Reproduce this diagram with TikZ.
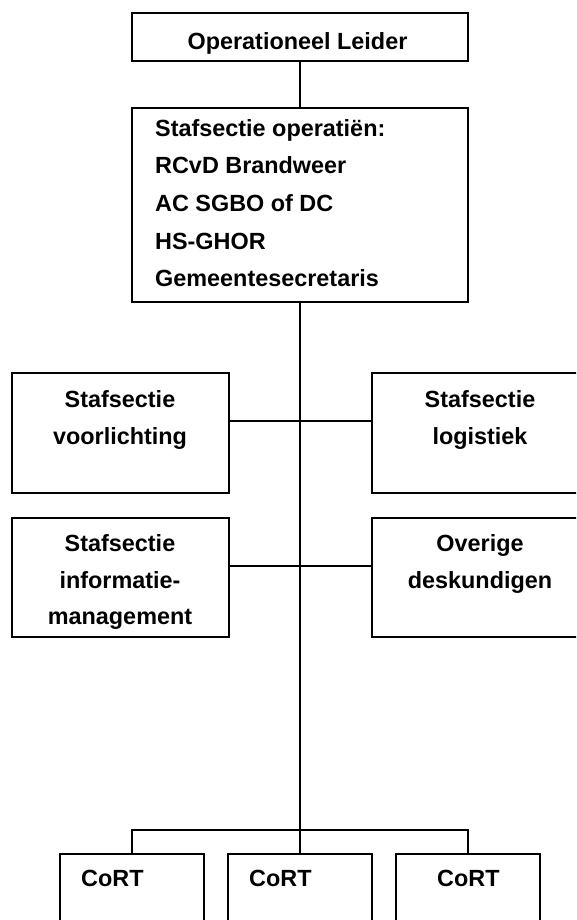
\documentclass[tikz,border=0pt]{standalone}
\usepackage{fontspec}
\setmainfont{Liberation Sans}
\begin{document}
\begin{tikzpicture}[x=1pt,y=-1pt,
  box/.style={draw, line width=1.5pt, inner sep=0pt, rectangle},
  txt/.style={inner sep=0pt, font=\fontsize{23.4}{28}\selectfont\bfseries},
  conn/.style={line width=1.5pt}]
\useasboundingbox (0,0) rectangle (576,920);
\clip (0,0) rectangle (576,920);
% boxes
\node[box, minimum width=336pt, minimum height=48pt] (lead) at (300,37) {};
\node[box, minimum width=336pt, minimum height=194pt] (ops) at (300,205) {};
\node[box, minimum width=217pt, minimum height=120pt] (voor) at (120.5,433) {};
\node[box, minimum width=216pt, minimum height=120pt] (log) at (480,433) {};
\node[box, minimum width=217pt, minimum height=119pt] (info) at (120.5,577.5) {};
\node[box, minimum width=216pt, minimum height=119pt] (ove) at (480,577.5) {};
\node[box, minimum width=144pt, minimum height=120pt] (cort1) at (132,914) {};
\node[box, minimum width=144pt, minimum height=120pt] (cort2) at (300,914) {};
\node[box, minimum width=144pt, minimum height=120pt] (cort3) at (468,914) {};
% texts
\node[txt, anchor=base] (tlead) at (297.5,50) {Operationeel Leider};
\foreach \t [count=\i] in {Stafsectie operatiën:,RCvD Brandweer,AC SGBO of DC,HS-GHOR,Gemeentesecretaris}
  \node[txt, anchor=base west] (tops\i) at (155,{136.5+37.5*(\i-1)}) {\t};
\node[txt, anchor=base] (tvoor1) at (120,407.5) {Stafsectie};
\node[txt, anchor=base] (tvoor2) at (120,444) {voorlichting};
\node[txt, anchor=base] (tlog1) at (480,407.5) {Stafsectie};
\node[txt, anchor=base] (tlog2) at (480,444) {logistiek};
\node[txt, anchor=base] (tinfo1) at (120,551.5) {Stafsectie};
\node[txt, anchor=base] (tinfo2) at (120,588) {informatie-};
\node[txt, anchor=base] (tinfo3) at (120,624.5) {management};
\node[txt, anchor=base] (tove1) at (480,551.5) {Overige};
\node[txt, anchor=base] (tove2) at (480,588) {deskundigen};
\node[txt, anchor=base west] (tc1) at (81,886.5) {CoRT};
\node[txt, anchor=base west] (tc2) at (249,886.5) {CoRT};
\node[txt, anchor=base west] (tc3) at (437,886.5) {CoRT};
% connectors
\coordinate (h1) at (300,421);
\coordinate (h2) at (300,566);
\coordinate (bus) at (300,830);
\draw[conn] (lead.south) -- (ops.north);
\draw[conn] (ops.south) -- (cort2.north);
\draw[conn] (h1 -| voor.east) -- (h1 -| log.west);
\draw[conn] (h2 -| info.east) -- (h2 -| ove.west);
\draw[conn] (cort1.north) |- (bus) -| (cort3.north);
\end{tikzpicture}
\end{document}
